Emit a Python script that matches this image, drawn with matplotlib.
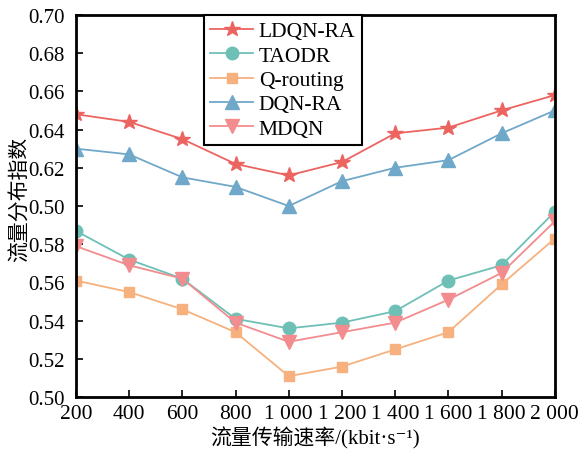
import matplotlib
matplotlib.use('Agg')
import matplotlib.pyplot as plt

plt.rcParams['font.family'] = ['Liberation Serif', 'Noto Sans CJK SC', 'DejaVu Serif']

rates = [200, 400, 600, 800, 1000, 1200, 1400, 1600, 1800, 2000]
rate_labels = ['200', '400', '600', '800', '1 000', '1 200', '1 400', '1 600', '1 800', '2 000']

ldqn_ra = [0.648, 0.644, 0.635, 0.622, 0.616, 0.623, 0.638, 0.641, 0.650, 0.658]
taodr = [0.587, 0.572, 0.562, 0.541, 0.536, 0.539, 0.545, 0.561, 0.569, 0.597]
q_routing = [0.561, 0.555, 0.546, 0.534, 0.511, 0.516, 0.525, 0.534, 0.559, 0.583]
dqn_ra = [0.630, 0.627, 0.615, 0.610, 0.600, 0.613, 0.620, 0.624, 0.638, 0.650]
mdqn = [0.579, 0.569, 0.562, 0.539, 0.529, 0.534, 0.539, 0.551, 0.565, 0.592]

y_ticks = [0.50, 0.52, 0.54, 0.56, 0.58, 0.60, 0.62, 0.64, 0.66, 0.68, 0.70]
y_labels = ['0.50', '0.52', '0.54', '0.56', '0.58', '0.50', '0.62', '0.64', '0.66', '0.68', '0.70']

fig = plt.figure(figsize=(5.84, 4.52), dpi=100)
ax = fig.add_axes([0.130, 0.119, 0.820, 0.846])

ax.plot(rates, ldqn_ra, color='#EC6460', marker='*', markersize=11.5, lw=1.3, label='LDQN-RA')
ax.plot(rates, taodr, color='#6EC0B6', marker='o', markersize=9, lw=1.3, label='TAODR')
ax.plot(rates, q_routing, color='#F6B17E', marker='s', markersize=7.5, lw=1.3, label='Q-routing')
ax.plot(rates, dqn_ra, color='#70A8C9', marker='^', markersize=10, lw=1.3, label='DQN-RA')
ax.plot(rates, mdqn, color='#F28C8E', marker='v', markersize=10, lw=1.3, label='MDQN')

ax.set_xlim(200, 2000)
ax.set_ylim(0.50, 0.70)
ax.set_xticks(rates)
ax.set_xticklabels(rate_labels)
ax.set_yticks(y_ticks)
ax.set_yticklabels(y_labels)
ax.tick_params(direction='in', length=5, width=1.2, labelsize=15)
ax.tick_params(axis='x', pad=5, labelsize=15.5)
ax.tick_params(axis='y', pad=8)
for s in ax.spines.values():
    s.set_linewidth(2)

ax.set_xlabel('流量传输速率/(kbit·s⁻¹)', fontsize=15, labelpad=2)
ax.set_ylabel('流量分布指数', fontsize=15)
ax.yaxis.set_label_coords(-0.095, 0.52)

leg = ax.legend(loc='upper left', bbox_to_anchor=(0.267, 1.0), borderaxespad=0,
                fancybox=False, fontsize=15.5, handlelength=2.0, handletextpad=0.25,
                labelspacing=0.2, borderpad=0.3, framealpha=1)
leg.get_frame().set_edgecolor('black')
leg.get_frame().set_linewidth(1.5)

fig.savefig('out.png', dpi=100)
